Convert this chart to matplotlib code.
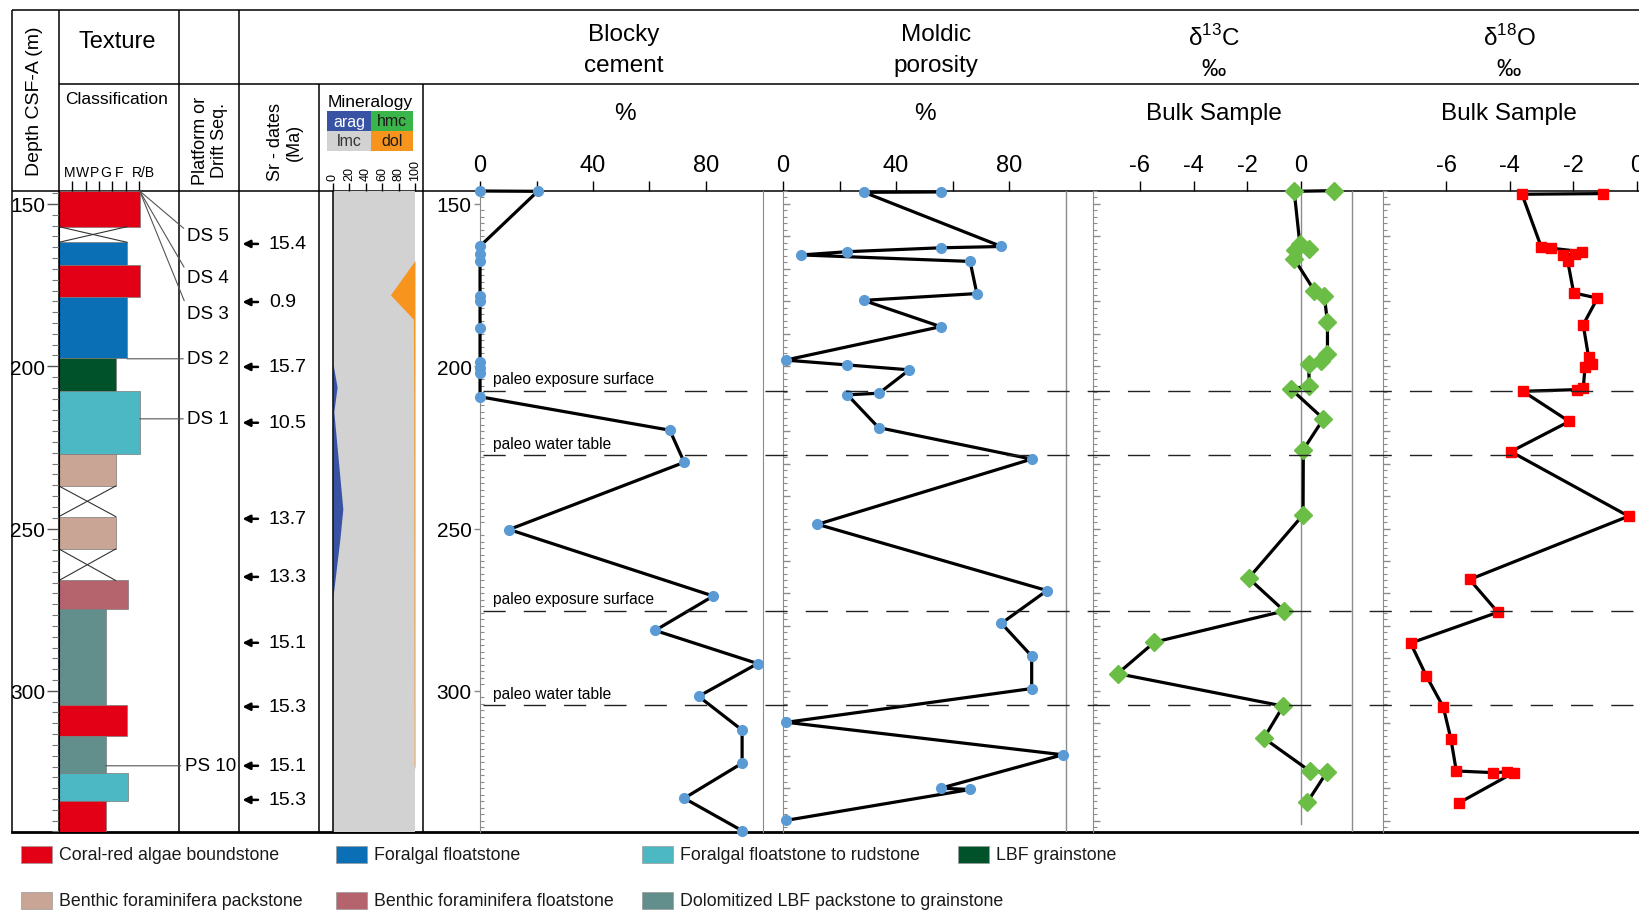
import matplotlib
matplotlib.use("Agg")
import matplotlib.pyplot as plt
from matplotlib.patches import Rectangle
from matplotlib.ticker import MultipleLocator, NullFormatter, ScalarFormatter

plt.rcParams["font.family"] = ["Liberation Sans", "DejaVu Sans"]
plt.rcParams["mathtext.fontset"] = "custom"
plt.rcParams["mathtext.rm"] = "Liberation Sans"

TOP, BOT = 146.0, 343.5

lith_top = [146.0, 157.0, 161.8, 168.8, 178.7, 197.5, 207.5, 227.0, 236.9,
            246.3, 256.3, 266.0, 274.7, 304.3, 313.8, 325.3, 333.8]
lith_base = lith_top[1:] + [BOT]
lith_code = ["CR", None, "FF", "CR", "FF", "LG", "FR", "BP", None,
             "BP", None, "BF", "DL", "CR", "DL", "FR", "CR"]
lith_tex = [6.05, 5.1, 5.1, 6.05, 5.1, 4.25, 6.05, 4.25, 4.25,
            4.25, 4.25, 5.15, 3.5, 5.1, 3.5, 5.15, 3.5]
texture_ticks = ["M", "W", "P", "G", "F", "R/B"]
texture_label_shift = [-0.18, -0.2, -0.3, -0.47, -0.5, 0.3]

lith_names = {
    "CR": ("Coral-red algae boundstone", "#e30016"),
    "FF": ("Foralgal floatstone", "#0a6fb5"),
    "FR": ("Foralgal floatstone to rudstone", "#4cb8c3"),
    "LG": ("LBF grainstone", "#00522a"),
    "BP": ("Benthic foraminifera packstone", "#c8a594"),
    "BF": ("Benthic foraminifera floatstone", "#b5646d"),
    "DL": ("Dolomitized LBF packstone to grainstone", "#628f8c"),
}

seq_names = ["DS 5", "DS 4", "DS 3", "DS 2", "DS 1", "PS 10"]
seq_label_depth = [159.8, 172.6, 183.6, 197.7, 216.2, 323.1]
seq_anchor_depth = [146.0, 146.0, 146.0, 197.7, 216.2, 323.1]
seq_anchor_tex = [6.05, 6.05, 6.05, 5.1, 6.05, 3.5]

sr_depth = [162.3, 180.2, 200.2, 217.4, 247.0, 264.9, 285.2, 304.9, 323.1, 333.6]
sr_age = [15.4, 0.9, 15.7, 10.5, 13.7, 13.3, 15.1, 15.3, 15.1, 15.3]

arag_depth = [146.0, 199.3, 206.4, 214.0, 244.0, 253.0, 271.0, BOT]
arag_pct = [0, 0, 5, 1, 12, 8.5, 0, 0]
dol_depth = [146.0, 167.4, 178.0, 185.5, 209.0, 323.0, 324.0, BOT]
dol_pct = [0, 0, 30, 2, 1.5, 1, 0, 0]

blocky_depth = [146.0, 146.1, 163.0, 165.3, 167.5, 178.3, 179.9, 188.3, 198.7,
                200.4, 202.0, 209.4, 219.7, 229.6, 250.3, 270.8, 281.4, 291.6,
                301.7, 312.1, 322.3, 333.1, 343.1]
blocky_pct = [0, 20.4, 0, 0, 0, 0, 0, 0, 0, 0, 0, 0, 67.2, 72.3, 10.3, 82.6,
              62.0, 98.3, 77.4, 92.8, 92.8, 72.3, 92.8]

moldic_depth = [146.3, 146.4, 163.1, 163.5, 164.7, 165.7, 167.7, 177.6, 179.7,
                187.8, 198.1, 199.6, 201.1, 208.3, 208.8, 218.9, 228.6, 248.7,
                269.1, 279.2, 289.3, 299.3, 309.7, 319.7, 330.0, 330.4, 339.9]
moldic_pct = [55.8, 28.7, 77.3, 55.8, 22.8, 6.5, 66.2, 68.6, 28.5, 55.8, 0.9,
              22.8, 44.7, 34.0, 22.8, 33.8, 88.0, 12.2, 93.4, 77.3, 88.0, 88.0,
              1.2, 99.0, 55.8, 66.2, 1.2]

d13c_depth = [145.9, 146.1, 162.3, 163.8, 164.1, 166.9, 176.7, 178.2, 186.4,
              196.2, 198.3, 199.3, 206.0, 207.0, 216.2, 225.7, 245.8, 265.3,
              275.4, 285.0, 294.7, 304.7, 314.6, 324.7, 325.0, 334.3]
d13c_val = [1.24, -0.25, -0.04, 0.31, -0.21, -0.25, 0.50, 0.87, 0.99, 0.99,
            0.74, 0.29, 0.31, -0.37, 0.84, 0.09, 0.08, -1.95, -0.62, -5.46,
            -6.83, -0.66, -1.38, 0.33, 0.97, 0.24]

d18o_depth = [146.8, 147.0, 163.3, 163.6, 164.7, 165.4, 165.7, 167.5, 177.4,
              179.0, 187.2, 197.2, 199.3, 200.1, 206.8, 207.2, 207.7, 217.0,
              226.3, 246.2, 265.7, 275.8, 285.3, 295.3, 305.0, 314.8, 324.7,
              325.2, 325.0, 325.2, 334.5]
d18o_val = [-1.06, -3.62, -3.01, -2.72, -1.73, -1.94, -2.32, -2.18, -1.99,
            -1.24, -1.69, -1.52, -1.42, -1.63, -1.69, -1.90, -3.59, -2.13,
            -3.97, -0.26, -5.27, -4.38, -7.13, -6.64, -6.10, -5.86, -5.69,
            -4.54, -4.10, -3.88, -5.60]

surface_depth = [207.5, 227.4, 275.3, 304.5]
surface_label = ["paleo exposure surface", "paleo water table",
                 "paleo exposure surface", "paleo water table"]

# ---------- layout (pixels of the 1640x912 canvas) --------------------------

W, H = 1640, 912
Y0, Y1 = 192, 833
GRAY = "#8c8c8c"

fig = plt.figure(figsize=(W / 100, H / 100), dpi=100)
frame = fig.add_axes([0, 0, 1, 1])
frame.set_xlim(0, W)
frame.set_ylim(H, 0)
frame.axis("off")


def px_axes(x0, x1, y0=Y0, y1=Y1):
    ax = fig.add_axes([x0 / W, 1 - y1 / H, (x1 - x0) / W, (y1 - y0) / H])
    ax.set_facecolor("none")
    ax.set_ylim(BOT, TOP)
    for s in ax.spines.values():
        s.set_visible(False)
    return ax


def depth_minor(ax, color=GRAY):
    ax.yaxis.set_major_locator(MultipleLocator(10))
    ax.yaxis.set_minor_locator(MultipleLocator(2))
    ax.yaxis.set_major_formatter(NullFormatter())
    ax.tick_params(axis="y", which="major", direction="in", length=5,
                   width=1.0, color=color)
    ax.tick_params(axis="y", which="minor", direction="in", length=3,
                   width=0.8, color=color)
    ax.spines["left"].set_visible(True)
    ax.spines["left"].set_color(color)


def top_axis(ax, ticks, labels):
    ax.xaxis.tick_top()
    ax.set_xticks(ticks)
    ax.set_xticklabels(labels, fontsize=17)
    ax.tick_params(axis="x", direction="out", length=7, width=1.0, pad=4)


# frame lines
lk = dict(color="black", lw=1.1, solid_capstyle="butt")
frame.plot([12, W], [11, 11], **lk)
frame.plot([59, W], [85, 85], **lk)
frame.plot([12, W], [Y0, Y0], **lk)
frame.plot([12, W], [Y1, Y1], color="black", lw=2.0)
for x in (12, 59, 179, 239):
    frame.plot([x, x], [11, Y1], **lk)
for x in (319, 423):
    frame.plot([x, x], [85, Y1], **lk)

# headers
frame.text(35, 101, "Depth CSF-A (m)", rotation=90, ha="center", va="center", fontsize=14)
frame.text(117, 42, "Texture", ha="center", va="center", fontsize=17)
frame.text(117, 100, "Classification", ha="center", va="center", fontsize=12.5)
frame.text(210, 141, "Platform or\nDrift Seq.", rotation=90, ha="center", va="center",
           fontsize=13, multialignment="center", linespacing=1.1)
frame.text(285, 142, "Sr - dates\n(Ma)", rotation=90, ha="center", va="center",
           fontsize=13, multialignment="center", linespacing=1.1)
frame.text(370, 102, "Mineralogy", ha="center", va="center", fontsize=12.5)
for (x, y, w, h, c, t, tc) in [(327, 112, 44, 20, "#3853a4", "arag", "white"),
                               (371, 112, 42, 20, "#3ab54a", "hmc", "#1a1a1a"),
                               (327, 132, 44, 20, "#d2d2d2", "lmc", "#333333"),
                               (371, 132, 42, 20, "#f7941e", "dol", "#1a1a1a")]:
    frame.add_patch(Rectangle((x, y), w, h, facecolor=c, edgecolor="none"))
    frame.text(x + w / 2, y + h / 2, t, ha="center", va="center", fontsize=11.5, color=tc)

for x, t in [(624, "Blocky"), (936, "Moldic")]:
    frame.text(x, 35, t, ha="center", va="center", fontsize=17.5)
for x, t in [(624, "cement"), (936, "porosity")]:
    frame.text(x, 66, t, ha="center", va="center", fontsize=17.5)
frame.text(1214, 38, r"δ$^{13}$C", ha="center", va="center", fontsize=17.5)
frame.text(1214, 70, "‰", ha="center", va="center", fontsize=17.5)
frame.text(1509, 38, r"δ$^{18}$O", ha="center", va="center", fontsize=17.5)
frame.text(1509, 70, "‰", ha="center", va="center", fontsize=17.5)
frame.text(625, 114, "%", ha="center", va="center", fontsize=17.5)
frame.text(925, 114, "%", ha="center", va="center", fontsize=17.5)
frame.text(1214, 114, "Bulk Sample", ha="center", va="center", fontsize=17.5)
frame.text(1509, 114, "Bulk Sample", ha="center", va="center", fontsize=17.5)

# legend
legend_rows = [[(21, "CR"), (336, "FF"), (642, "FR"), (958, "LG")],
               [(21, "BP"), (336, "BF"), (642, "DL")]]
for y, row in zip((856, 902), legend_rows):
    for x, code in row:
        name, col = lith_names[code]
        frame.add_patch(Rectangle((x, y - 8.5), 31, 17, facecolor=col,
                                  edgecolor="#999999", lw=0.5))
        frame.text(x + 38, y, name, ha="left", va="center", fontsize=12.8, color="#1a1a1a")

# ---------- texture log -----------------------------------------------------

ax_tex = px_axes(59, 179)
ax_tex.set_xlim(0, 9)
for top, base, code, tex in zip(lith_top, lith_base, lith_code, lith_tex):
    if code is None:
        ax_tex.plot([0, tex], [top, base], color="#333333", lw=0.8)
        ax_tex.plot([0, tex], [base, top], color="#333333", lw=0.8)
    else:
        ax_tex.barh(top, tex, height=base - top, left=0, align="edge",
                    color=lith_names[code][1], edgecolor="#7a7a7a", lw=0.5)
ax_tex.xaxis.tick_top()
ax_tex.set_xticks(range(1, 7))
ax_tex.set_xticklabels([])
ax_tex.tick_params(axis="x", direction="out", length=7, width=1.0)
for i, (lab, dx) in enumerate(zip(texture_ticks, texture_label_shift)):
    ax_tex.text(i + 1 + dx, TOP - 5.8, lab, ha="center", va="center",
                fontsize=10, clip_on=False)
ax_tex.yaxis.set_major_locator(MultipleLocator(50))
ax_tex.yaxis.set_minor_locator(MultipleLocator(50 / 15))
ax_tex.tick_params(axis="y", which="major", direction="out", length=9, width=1.0,
                   labelsize=15, pad=1, color="#555555")
ax_tex.tick_params(axis="y", which="minor", direction="out", length=5, width=0.8,
                   color="#777777")
ax_tex.spines["left"].set_visible(True)

# sequence labels
ax_plat = px_axes(179, 239)
ax_plat.set_xlim(0, 60)
ax_plat.set_xticks([])
ax_plat.set_yticks([])
for name, dl, da, tx in zip(seq_names, seq_label_depth, seq_anchor_depth, seq_anchor_tex):
    xt = 6 if name == "PS 10" else 8.5
    ax_plat.annotate(name, xy=(tx, da), xycoords=ax_tex.transData,
                     xytext=(xt, dl), textcoords="data", fontsize=13.5,
                     ha="left", va="center", annotation_clip=False,
                     arrowprops=dict(arrowstyle="-", color="#555555", lw=0.8,
                                     relpos=(0, 0.75 if da < dl - 2 else 0.5),
                                     shrinkA=1, shrinkB=0))

# Sr dates
ax_sr = px_axes(239, 319)
ax_sr.set_xlim(0, 80)
ax_sr.set_xticks([])
ax_sr.set_yticks([])
for d, age in zip(sr_depth, sr_age):
    ax_sr.annotate("", xy=(3.5, d), xytext=(19, d), textcoords="data",
                   arrowprops=dict(arrowstyle="-|>", color="black", lw=1.8,
                                   mutation_scale=11, shrinkA=0, shrinkB=0))
    ax_sr.text(30, d, f"{age:.1f}", ha="left", va="center", fontsize=14)

# mineralogy
ax_min = px_axes(333, 415)
ax_min.set_xlim(0, 100)
ax_min.fill_betweenx([TOP, BOT], 0, 100, color="#d2d2d2", lw=0)
ax_min.fill_betweenx(arag_depth, 0, arag_pct, color="#3853a4", lw=0)
ax_min.fill_betweenx(dol_depth, [100 - p for p in dol_pct], 100, color="#f7941e", lw=0)
ax_min.spines["left"].set_visible(True)
ax_min.spines["left"].set_linewidth(1.1)
ax_min.set_yticks([])
ax_min.xaxis.tick_top()
ax_min.set_xticks(range(0, 101, 20))
ax_min.set_xticklabels([str(v) for v in range(0, 101, 20)], fontsize=9, rotation=90)
ax_min.tick_params(axis="x", direction="out", length=6, width=1.0, pad=2)

# ---------- data panels -----------------------------------------------------

line_kw = dict(color="black", lw=2.3, zorder=3, clip_on=False)

ax_b = px_axes(423, 763)
ax_b.set_xlim(-20.2, 100.2)
ax_b.plot(blocky_pct, blocky_depth, marker="o", ms=7, mfc="#5b9bd5", mec="#5b9bd5", **line_kw)
top_axis(ax_b, [0, 20, 40, 60, 80], ["0", "", "40", "", "80"])
depth_minor(ax_b)
ax_b.spines["left"].set_position(("data", 0))
ax_b.yaxis.set_major_locator(MultipleLocator(50))
ax_b.yaxis.set_major_formatter(ScalarFormatter())
ax_b.tick_params(axis="y", which="major", direction="out", length=4, labelsize=15, pad=2,
                 labelcolor="black")
ax_b.spines["right"].set_visible(True)
ax_b.spines["right"].set_color(GRAY)

ax_m = px_axes(763, 1093)
ax_m.set_xlim(-7.08, 109.7)
ax_m.axvline(100, color=GRAY, lw=1.0)
ax_m.plot(moldic_pct, moldic_depth, marker="o", ms=7, mfc="#5b9bd5", mec="#5b9bd5", **line_kw)
top_axis(ax_m, [0, 20, 40, 60, 80], ["0", "", "40", "", "80"])
depth_minor(ax_m)
ax_m.spines["left"].set_position(("data", 0))

ax_c = px_axes(1093, 1383)
ax_c.set_xlim(-7.75, 3.06)
ax_c.axvline(1.9, color=GRAY, lw=1.0)
ax_c.plot([0, 0], [TOP, 341], color=GRAY, lw=1.0)
ax_c.plot(d13c_val, d13c_depth, marker="D", ms=9.5, mfc="#6abd45", mec="#6abd45", **line_kw)
top_axis(ax_c, [-6, -4, -2, 0], ["-6", "-4", "-2", "0"])
depth_minor(ax_c)

ax_o = px_axes(1383, 1640)
ax_o.set_xlim(-8, 0.1)
ax_o.plot(d18o_val, d18o_depth, marker="s", ms=6.5, mfc="#ff0000", mec="#ff0000", **line_kw)
top_axis(ax_o, [-6, -4, -2, 0], ["-6", "-4", "-2", "0"])
depth_minor(ax_o)

# diagenetic surfaces across all panels
ax_s = px_axes(483, 1640)
ax_s.set_xlim(0, 1)
ax_s.set_xticks([])
ax_s.set_yticks([])
for d, lab in zip(surface_depth, surface_label):
    ax_s.axhline(d, color="#222222", lw=1.0, dashes=(16, 13), zorder=1)
    ax_b.text(4.5, d - 1.3, lab, ha="left", va="bottom", fontsize=11.2, zorder=4)

fig.savefig("out.png", dpi=100, facecolor="white")
